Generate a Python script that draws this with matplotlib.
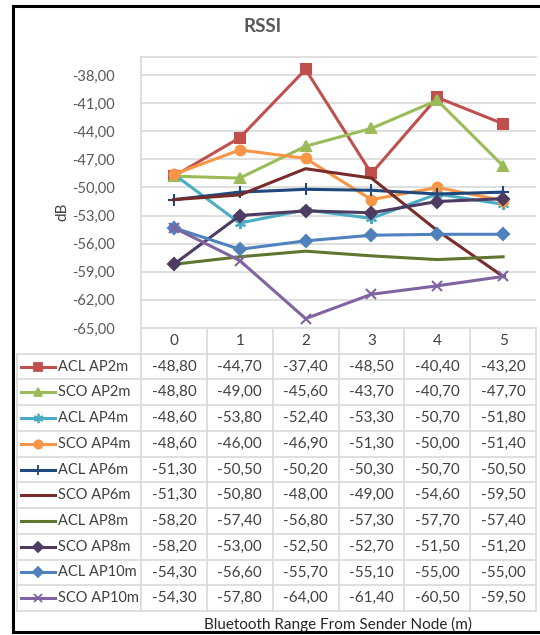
import matplotlib
matplotlib.use("Agg")
import matplotlib.pyplot as plt
from matplotlib.lines import Line2D

plt.rcParams['font.family'] = ['Lato', 'DejaVu Sans']

categories = [0, 1, 2, 3, 4, 5]
series_names = ["ACL AP2m", "SCO AP2m", "ACL AP4m", "SCO AP4m", "ACL AP6m",
                "SCO AP6m", "ACL AP8m", "SCO AP8m", "ACL AP10m", "SCO AP10m"]

acl_ap2m = [-48.80, -44.70, -37.40, -48.50, -40.40, -43.20]
sco_ap2m = [-48.80, -49.00, -45.60, -43.70, -40.70, -47.70]
acl_ap4m = [-48.60, -53.80, -52.40, -53.30, -50.70, -51.80]
sco_ap4m = [-48.60, -46.00, -46.90, -51.30, -50.00, -51.40]
acl_ap6m = [-51.30, -50.50, -50.20, -50.30, -50.70, -50.50]
sco_ap6m = [-51.30, -50.80, -48.00, -49.00, -54.60, -59.50]
acl_ap8m = [-58.20, -57.40, -56.80, -57.30, -57.70, -57.40]
sco_ap8m = [-58.20, -53.00, -52.50, -52.70, -51.50, -51.20]
acl_ap10m = [-54.30, -56.60, -55.70, -55.10, -55.00, -55.00]
sco_ap10m = [-54.30, -57.80, -64.00, -61.40, -60.50, -59.50]

series_values = [acl_ap2m, sco_ap2m, acl_ap4m, sco_ap4m, acl_ap6m,
                 sco_ap6m, acl_ap8m, sco_ap8m, acl_ap10m, sco_ap10m]

y_ticks = [-65, -62, -59, -56, -53, -50, -47, -44, -41, -38]

colors = ["#C0504D", "#9BBB59", "#4BACC6", "#F79646", "#1F497D",
          "#772C2A", "#5F7530", "#4D3B62", "#4F81BD", "#8064A2"]
markers = ["s", "^", (6, 2, 0), "o", "+", "_", None, "D", "D", "x"]
msizes = [6.5, 6.5, 8, 7, 8, 5, 0, 6, 6, 7]

W, H = 540, 635
fig = plt.figure(figsize=(W / 100, H / 100), dpi=100)


def fx(px):
    return px / W


def fy(py):
    return 1 - py / H


# plot area geometry (pixels)
pl, pr, pt, pb = 141, 536, 57, 328
y_lo = -65
px_per_unit = (pb - 75) / (-38 - y_lo)
y_hi = y_lo + (pb - pt) / px_per_unit

ax = fig.add_axes([fx(pl), fy(pb), fx(pr) - fx(pl), fy(pt) - fy(pb)])
ax.set_xlim(-0.5, 5.5)
ax.set_ylim(y_lo, y_hi)
ax.set_yticks(y_ticks)
ax.set_yticklabels([f"{v:.2f}".replace(".", ",") for v in y_ticks])
ax.set_xticks([])
ax.tick_params(axis='y', length=0, pad=19, labelsize=10.5, labelcolor="#595959")
ax.grid(axis='y', color="#D9D9D9", linewidth=1.2)
for s in ['right', 'bottom']:
    ax.spines[s].set_visible(False)
for s in ['left', 'top']:
    ax.spines[s].set_color("#D9D9D9")
    ax.spines[s].set_linewidth(1.2)
ax.set_axisbelow(True)

for vals, c, m, ms in zip(series_values, colors, markers, msizes):
    ax.plot(categories, vals, color=c, linewidth=2.2, marker=m, markersize=ms,
            markeredgecolor=c, markerfacecolor=c, markeredgewidth=1.5,
            clip_on=False, zorder=3)

# title and axis titles
fig.text(fx(263), fy(27), "RSSI", ha="center", va="center", fontsize=13.5,
         fontweight="bold", color="#595959")
fig.text(fx(62), fy(212), "dB", ha="center", va="center", rotation=90,
         fontsize=11, color="#404040")
fig.text(fx(338), fy(624), "Bluetooth Range From Sender Node (m)", ha="center",
         va="center", fontsize=11, color="#262626")

# data table below the plot
tl, tb = 17, 611
colw = (pr - pl) / 6
nrows = 11
tax = fig.add_axes([fx(tl), fy(tb), fx(pr) - fx(tl), fy(pb) - fy(tb)])
x_left = -0.5 - (pl - tl) / colw
tax.set_xlim(x_left, 5.5)
tax.set_ylim(nrows, 0)
tax.axis('off')


def px2x(px):
    return -0.5 + (px - pl) / colw


gc = "#D9D9D9"
tax.plot([-0.5, 5.5], [0, 0], color=gc, lw=1.2, clip_on=False)
for r in range(1, nrows + 1):
    tax.plot([x_left, 5.5], [r, r], color=gc, lw=1.2, clip_on=False)
for k in range(7):
    tax.plot([k - 0.5, k - 0.5], [0, nrows], color=gc, lw=1.2, clip_on=False)
tax.plot([x_left, x_left], [1, nrows], color=gc, lw=1.2, clip_on=False)

for i, c in enumerate(categories):
    tax.text(i, 0.5, str(c), ha="center", va="center", fontsize=11,
             color="#404040")

for r, (name, vals, c, m, ms) in enumerate(zip(series_names, series_values,
                                              colors, markers, msizes)):
    yc = r + 1.5
    tax.plot([px2x(21), px2x(55)], [yc, yc], color=c, lw=2.2, clip_on=False)
    if m is not None:
        tax.plot([px2x(38)], [yc], color=c, marker=m, markersize=ms * 0.85,
                 markeredgecolor=c, markerfacecolor=c, markeredgewidth=1.3,
                 clip_on=False)
    tax.text(px2x(58), yc, name, ha="left", va="center", fontsize=10.5,
             color="#404040")
    for i, v in enumerate(vals):
        tax.text(i, yc, f"{v:.2f}".replace(".", ","), ha="center",
                 va="center", fontsize=11, color="#404040")

# outer frame
for xs, ys in [([13, 13], [6, 632]), ([13, 540], [6, 6]), ([13, 540], [632, 632])]:
    fig.add_artist(Line2D([fx(v) for v in xs], [fy(v) for v in ys],
                          color="black", linewidth=2.2))

fig.savefig("out.png", dpi=100)
